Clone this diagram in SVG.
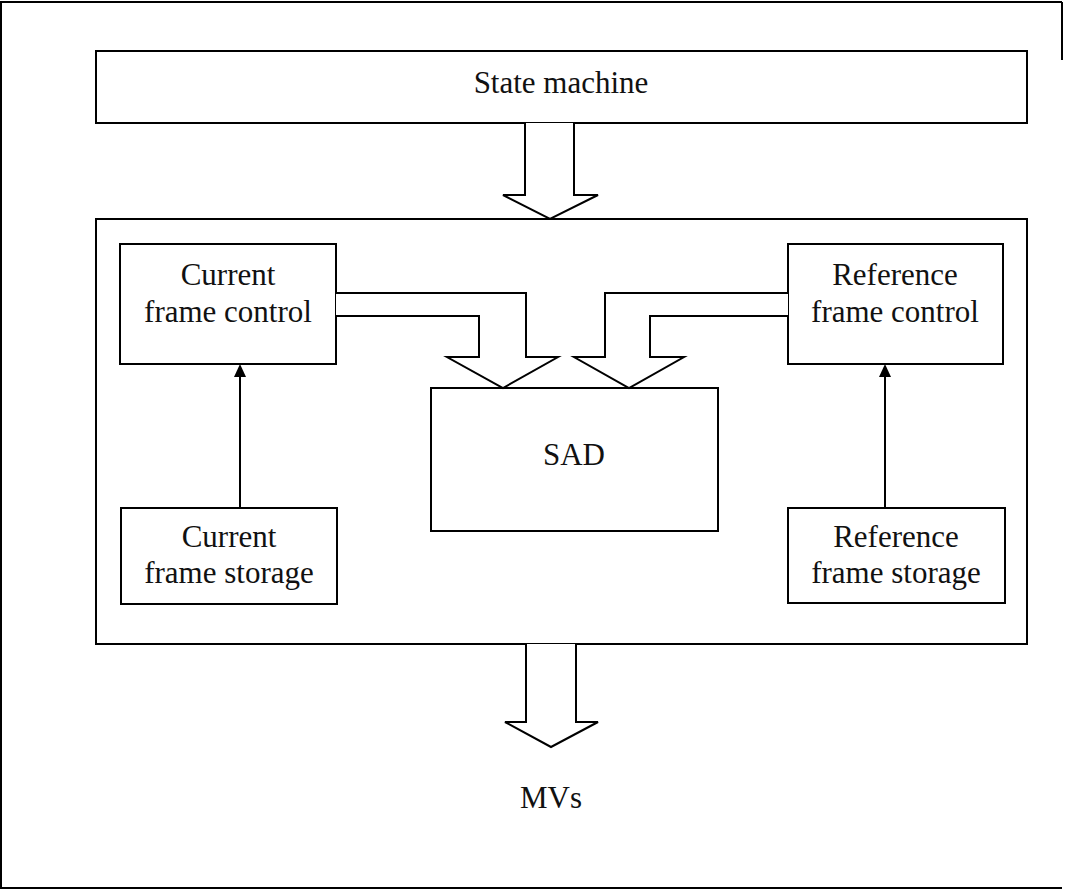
<svg xmlns="http://www.w3.org/2000/svg" width="1075" height="890" viewBox="0 0 1075 890">
<style>
.box{fill:#fff;stroke:#000;stroke-width:2}
.ln{fill:none;stroke:#000;stroke-width:2}
.bar{fill:#fff;stroke:#000;stroke-width:2;stroke-linejoin:miter}
.head{fill:#000;stroke:none}
.t{font-family:"Liberation Serif","Times New Roman",serif;font-size:31px;fill:#111;text-anchor:middle}
</style>
<rect width="1075" height="890" fill="#fff"/>
<g id="frame">
<path class="ln" d="M1062,2 L1,2 L1,888 L1062,888"/>
<path class="ln" d="M1062,2 L1062,60"/>
</g>
<g id="state-machine">
<rect class="box" x="96" y="51" width="931" height="72"/>
<text class="t" x="561" y="93">State machine</text>
</g>
<g id="main-block">
<rect class="box" x="96" y="219" width="931" height="425"/>
</g>
<g id="current-frame-control">
<rect class="box" x="120" y="244" width="216" height="120"/>
<text class="t" x="228" y="285">Current</text>
<text class="t" x="228" y="322">frame control</text>
</g>
<g id="reference-frame-control">
<rect class="box" x="788" y="244" width="215" height="120"/>
<text class="t" x="895" y="285">Reference</text>
<text class="t" x="895" y="322">frame control</text>
</g>
<g id="sad">
<rect class="box" x="431" y="388" width="287" height="143"/>
<text class="t" x="574" y="465">SAD</text>
</g>
<g id="current-frame-storage">
<rect class="box" x="121" y="508" width="216" height="96"/>
<text class="t" x="229" y="547">Current</text>
<text class="t" x="229" y="583">frame storage</text>
</g>
<g id="reference-frame-storage">
<rect class="box" x="788" y="508" width="217" height="95"/>
<text class="t" x="896" y="547">Reference</text>
<text class="t" x="896" y="583">frame storage</text>
</g>
<g id="connectors">
<path class="bar" d="M525,123 L525,195 L503,195 L550,219 L598,195 L574,195 L574,123"/>
<path class="bar" d="M336,293 L526,293 L526,357 L558,357 L503,388 L447,357 L479,357 L479,316 L336,316"/>
<path class="bar" d="M788,293 L605,293 L605,357 L574,357 L629,388 L684,357 L650,357 L650,316 L788,316"/>
<path class="bar" d="M526,644 L526,722 L505,722 L551,747 L598,722 L576,722 L576,644"/>
<line class="ln" x1="240" y1="508" x2="240" y2="374"/>
<path class="head" d="M240,364 L246,377 L234,377 Z"/>
<line class="ln" x1="885" y1="508" x2="885" y2="374"/>
<path class="head" d="M885,364 L891,377 L879,377 Z"/>
</g>
<g id="mvs">
<text class="t" x="551" y="808">MVs</text>
</g>
</svg>
